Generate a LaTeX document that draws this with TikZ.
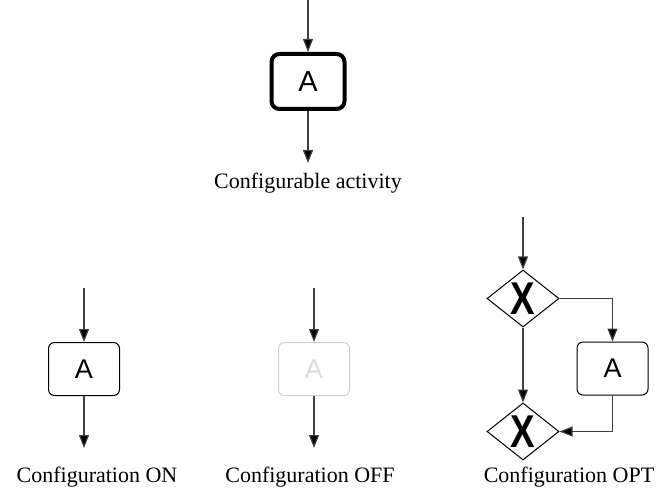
\documentclass[tikz,border=0pt]{standalone}
\usepackage{fontspec}
\setmainfont{Liberation Serif}
\newfontfamily\arialfont{Liberation Sans}
\usetikzlibrary{arrows.meta,shapes.geometric}
\definecolor{linegray}{HTML}{404040}
\definecolor{offgray}{HTML}{CFCFCF}
\definecolor{offtext}{HTML}{DADADA}
\tikzset{
  flow/.style={draw=linegray, line width=1.2pt, -{Triangle[length=13pt,width=10pt,fill=black]}},
  actbox/.style={draw=black, line width=1pt, rounded corners=6pt, minimum width=71pt, minimum height=53pt, inner sep=0pt, font=\arialfont\fontsize{27}{27}\selectfont},
  cfgbox/.style={actbox, line width=4pt, rounded corners=8pt, minimum width=73pt, minimum height=55pt, font=\arialfont\fontsize{29}{29}\selectfont},
  offbox/.style={actbox, draw=offgray, text=offtext},
  xorgw/.style={diamond, draw=black, line width=1pt, minimum width=72pt, minimum height=57pt, inner sep=0pt,
    label={center:{\arialfont\bfseries\fontsize{46}{46}\selectfont\scalebox{0.8}[1]{X}}}},
  caption/.style={anchor=base, inner sep=0pt, font=\fontsize{22}{22}\selectfont}
}
\begin{document}
\begin{tikzpicture}[x=1pt,y=-1pt]
\useasboundingbox (0,0) rectangle (661,494);
% top: configurable activity
\coordinate (t0) at (308,0);
\node[cfgbox] (ta) at (308,81.5) {A};
\coordinate (t1) at (308,163);
\draw[flow] (t0) -- (ta);
\draw[flow] (ta) -- (t1);
\node[caption] (tl) at (308,189) {Configurable activity};
% ON
\coordinate (on0) at (84,288);
\node[actbox] (ona) at (84,369) {A};
\coordinate (on1) at (84,448);
\draw[flow] (on0) -- (ona);
\draw[flow] (ona) -- (on1);
\node[caption] (onl) at (97,482) {Configuration ON};
% OFF
\coordinate (off0) at (314,288);
\node[offbox] (offa) at (314,369) {A};
\coordinate (off1) at (314,448);
\draw[flow] (off0) -- (offa);
\draw[flow] (offa) -- (off1);
\node[caption] (offl) at (310,482) {Configuration OFF};
% OPT
\coordinate (opt0) at (523,217);
\node[xorgw] (g1) at (523,298.5) {};
\node[actbox] (opta) at (612.5,368.5) {A};
\node[xorgw] (g2) at (523,431.5) {};
\draw[flow] (opt0) -- (g1.north);
\draw[flow] (g1.east) -| (opta.north);
\draw[flow] (g1.south) -- (g2.north);
\draw[flow] (opta.south) |- (g2.east);
\node[caption] (optl) at (569,482) {Configuration OPT};
\end{tikzpicture}
\end{document}
